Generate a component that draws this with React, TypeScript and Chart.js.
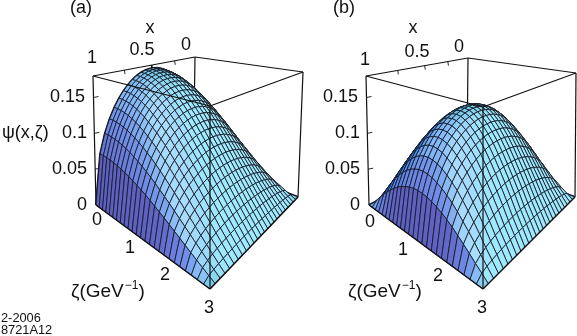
import React, { useEffect, useRef } from "react";
import { Chart, registerables } from "chart.js";

Chart.register(...registerables);

// Relative x-profile across the 25 mesh cells (x = 0 … 1)
const xProfile = [0, 0.392, 0.543, 0.65, 0.733, 0.8, 0.854, 0.898, 0.933, 0.96, 0.98, 0.993, 0.999, 0.999, 0.993, 0.98, 0.96, 0.933, 0.898, 0.854, 0.8, 0.733, 0.65, 0.543, 0.392, 0];
// psi along the ridge x = 0.5 over the 25 zeta mesh cells (zeta = 0 … 3)
const ridgeA = [0.175, 0.1746, 0.1734, 0.1714, 0.1686, 0.1651, 0.1608, 0.1558, 0.1499, 0.1436, 0.1367, 0.1293, 0.1216, 0.113, 0.1041, 0.095, 0.0858, 0.0763, 0.0665, 0.0567, 0.0469, 0.0371, 0.0275, 0.0182, 0.0089, 0];
const ridgeB = [0, 0.0177, 0.0351, 0.052, 0.0678, 0.0826, 0.0956, 0.1072, 0.1169, 0.1248, 0.1304, 0.1339, 0.135, 0.1339, 0.1306, 0.1253, 0.1179, 0.1093, 0.0993, 0.087, 0.0735, 0.0596, 0.0448, 0.029, 0.0148, 0];

const xTicks = ["1", "0.5", "0"];
const zetaTicks = ["0", "1", "2", "3"];
const psiTicks = ["0", "0.05", "0.1", "0.15"];
const psiMinorValues = [0.05, 0.1, 0.15];
const xMinorValues = [0.25, 0.5, 0.75];
const Z_TOP = 0.18;

type P = [number, number];
type Panel = {
  ridge: number[];
  topQ: P[]; // left, back, right, front
  baseQ: P[];
  title: string;
  titlePos: P;
  xTitle: P;
  xTickPos: P[];
  zetaTickPos: P[];
  psiTickPos: P[];
  zetaTitle: P;
  psiTitle?: P;
};

const panels: Panel[] = [
  {
    ridge: ridgeA,
    topQ: [[93, 76], [195, 57], [303, 72], [210, 106]],
    baseQ: [[96, 205], [193.5, 155.5], [298, 197], [210, 289]],
    title: "(a)",
    titlePos: [81, 8],
    xTitle: [150, 28],
    xTickPos: [[92, 58], [142, 50], [186, 45]],
    zetaTickPos: [[97, 220], [130, 248], [165, 275], [209, 308]],
    psiTickPos: [[87, 205], [87, 169], [87, 133], [85, 97]],
    zetaTitle: [71, 292],
    psiTitle: [2, 133],
  },
  {
    ridge: ridgeB,
    topQ: [[366, 76], [468, 58], [576, 73], [483, 107]],
    baseQ: [[369, 205], [467, 156], [575, 197], [483, 289]],
    title: "(b)",
    titlePos: [344, 8],
    xTitle: [413, 28],
    xTickPos: [[365, 60], [417, 52], [459, 47]],
    zetaTickPos: [[370, 222], [403, 250], [438, 276], [482, 308]],
    psiTickPos: [[360, 205], [360, 169], [360, 133], [358, 97]],
    zetaTitle: [348, 292],
  },
];

// unit square -> quad homography; u from x=1 (0) to x=0 (1), v = zeta/3
function homography(q: P[]) {
  const [[x0, y0], [x1, y1], [x2, y2], [x3, y3]] = q;
  const dx1 = x1 - x2, dx2 = x3 - x2, sx = x0 - x1 + x2 - x3;
  const dy1 = y1 - y2, dy2 = y3 - y2, sy = y0 - y1 + y2 - y3;
  const det = dx1 * dy2 - dx2 * dy1;
  const g = (sx * dy2 - dx2 * sy) / det;
  const h = (dx1 * sy - sx * dy1) / det;
  const a = x1 - x0 + g * x1, b = x3 - x0 + h * x3, c = x0;
  const d = y1 - y0 + g * y1, e = y3 - y0 + h * y3, f = y0;
  return (u: number, v: number): P => {
    const w = g * u + h * v + 1;
    return [(a * u + b * v + c) / w, (d * u + e * v + f) / w];
  };
}

function makeProjector(p: Panel) {
  const top = homography(p.topQ);
  const base = homography(p.baseQ);
  return (x: number, zetaFrac: number, z: number) => {
    const u = 1 - x;
    const t = z / Z_TOP;
    const b = base(u, zetaFrac);
    const tp = top(u, zetaFrac);
    return { x: b[0] + (tp[0] - b[0]) * t, y: b[1] + (tp[1] - b[1]) * t };
  };
}

// shading: colour for facet normals (horizontal parts nx, nz)
const shadeAnchors: number[][] = [
  [0, 0, 115, 205, 232],
  [0.54, 0, 135, 190, 250],
  [0.79, 0, 112, 140, 235],
  [0.98, 0, 92, 88, 185],
  [0, 0.55, 160, 235, 255],
  [0.4, 0.4, 170, 222, 254],
  [-0.4, 0.4, 185, 245, 245],
  [-0.3, 0, 120, 205, 215],
  [-0.54, 0, 145, 222, 225],
  [-0.85, 0, 175, 235, 235],
  [0.5, -0.5, 45, 125, 232],
  [0.85, -0.4, 55, 105, 218],
  [0, -0.6, 65, 175, 228],
  [-0.5, -0.5, 105, 195, 205],
];

function facetColor(dzdx: number, dzdv: number) {
  const k = 0.5;
  const n = [-dzdx * k, -dzdv * k, 1];
  const len = Math.hypot(n[0], n[1], n[2]) || 1;
  const nx = n[0] / len, nv = n[1] / len;
  let w = 0, r = 0, g = 0, b = 0;
  shadeAnchors.forEach((a) => {
    const d = Math.hypot(nx - a[0], nv - a[1]);
    const q = 1 / (d * d * d + 0.001);
    w += q;
    r += q * a[2];
    g += q * a[3];
    b += q * a[4];
  });
  return `rgb(${Math.round(r / w)},${Math.round(g / w)},${Math.round(b / w)})`;
}

function lineDs(pts: { x: number; y: number }[], width: number, color = "#111") {
  return {
    data: pts,
    showLine: true,
    borderColor: color,
    borderWidth: width,
    pointRadius: 0,
    fill: false,
    tension: 0,
  };
}

function buildPanel(p: Panel) {
  const proj = makeProjector(p);
  const n = xProfile.length;
  const psi = (i: number, j: number) => p.ridge[j] * xProfile[i];
  const pt = (i: number, j: number) => proj(i / (n - 1), j / (n - 1), psi(i, j));
  const behind: any[] = [];
  const mesh: any[] = [];
  const front: any[] = [];
  const corner = (x: number, v: number, z: number) => proj(x, v, z);
  const seg = (a: any, b: any, w = 1.2) => lineDs([a, b], w);
  // back box edges
  behind.push(seg(corner(1, 0, Z_TOP), corner(0, 0, Z_TOP)));
  behind.push(seg(corner(0, 0, Z_TOP), corner(0, 1, Z_TOP)));
  behind.push(seg(corner(1, 0, 0), corner(1, 0, Z_TOP)));
  behind.push(seg(corner(0, 1, 0), corner(0, 1, Z_TOP)));
  behind.push(seg(corner(0, 0, 0), corner(0, 0, Z_TOP)));
  // psi ticks on left edge, x ticks on top edge
  psiMinorValues.forEach((v) => {
    const a = corner(1, 0, v);
    behind.push(seg(a, { x: a.x + 5, y: a.y - 1 }, 0.9));
  });
  xMinorValues.forEach((v) => {
    const a = corner(v, 0, Z_TOP);
    behind.push(seg(a, { x: a.x + 0.6, y: a.y + 4 }, 0.9));
  });
  // surface outline, behind the mesh so only its silhouette shows
  const rng = Array.from({ length: n }, (_, k) => k);
  behind.push(lineDs(rng.map((k) => pt(k, 0)), 2));
  behind.push(lineDs(rng.map((k) => pt(0, k)), 2));
  for (let i = 0; i < n - 1; i++) {
    for (let j = 0; j < n - 1; j++) {
      const sx = 1 / (n - 1);
      const dzdx = ((psi(i + 1, j) + psi(i + 1, j + 1) - psi(i, j) - psi(i, j + 1)) / 2 / Z_TOP) / sx;
      const dzdv = ((psi(i, j + 1) + psi(i + 1, j + 1) - psi(i, j) - psi(i + 1, j)) / 2 / Z_TOP) / sx;
      const fill = facetColor(dzdx, dzdv);
      const a = pt(i, j), b = pt(i + 1, j), c = pt(i + 1, j + 1), d = pt(i, j + 1);
      mesh.push({
        data: [a, b, c, d, a],
        showLine: true,
        borderColor: "rgba(20,25,40,0.85)",
        borderWidth: 1,
        backgroundColor: fill,
        fill: "shape",
        pointRadius: 0,
        tension: 0,
      });
    }
  }
  // front box edges
  front.push(seg(corner(1, 0, Z_TOP), corner(1, 1, Z_TOP)));
  front.push(seg(corner(1, 1, Z_TOP), corner(0, 1, Z_TOP)));
  front.push(seg(corner(1, 1, 0), corner(1, 1, Z_TOP)));
  front.push(seg(corner(1, 0, 0), corner(1, 1, 0), 1.5));
  front.push(seg(corner(1, 1, 0), corner(0, 1, 0), 1.5));
  return [...behind, ...mesh, ...front];
}

const FONT = '"Liberation Sans", Arial, sans-serif';

const textPlugin = {
  id: "axisText",
  afterDraw(chart: any) {
    const ctx = chart.ctx as CanvasRenderingContext2D;
    const sx = chart.scales.x, sy = chart.scales.y;
    const put = (s: string, pos: P, align: CanvasTextAlign = "center", size = 18) => {
      ctx.font = `${size}px ${FONT}`;
      ctx.textAlign = align;
      ctx.textBaseline = "middle";
      ctx.fillStyle = "#111";
      ctx.fillText(s, sx.getPixelForValue(pos[0]), sy.getPixelForValue(pos[1]));
    };
    ctx.save();
    panels.forEach((p) => {
      put(p.title, p.titlePos);
      put("x", p.xTitle);
      xTicks.forEach((s, i) => put(s, p.xTickPos[i]));
      zetaTicks.forEach((s, i) => put(s, p.zetaTickPos[i]));
      psiTicks.forEach((s, i) => put(s, p.psiTickPos[i], "right"));
      put("ζ(GeV", p.zetaTitle, "left", 19);
      const w = ctx.measureText("ζ(GeV").width;
      const sup: P = [p.zetaTitle[0] + w + 1, p.zetaTitle[1] - 6];
      put("−1", sup, "left", 12);
      const w2 = ctx.measureText("−1").width;
      put(")", [sup[0] + w2, p.zetaTitle[1]], "left", 19);
      if (p.psiTitle) put("ψ(x,ζ)", p.psiTitle, "left", 18);
    });
    put("2-2006", [1, 318], "left", 12.8);
    put("8721A12", [1, 330], "left", 12.8);
    ctx.restore();
  },
};

export default function App() {
  const ref = useRef<HTMLCanvasElement>(null);
  useEffect(() => {
    if (!ref.current) return;
    const list = panels.flatMap(buildPanel).reverse();
    const chart = new Chart(ref.current, {
      type: "scatter",
      data: { datasets: list },
      options: {
        animation: false,
        responsive: false,
        events: [],
        layout: { padding: 0 },
        scales: {
          x: { type: "linear", min: 0, max: 577, display: false },
          y: { type: "linear", min: 0, max: 336, reverse: true, display: false },
        },
        plugins: { legend: { display: false }, tooltip: { enabled: false } },
      },
      plugins: [textPlugin],
    } as any);
    return () => chart.destroy();
  }, []);
  return (
    <canvas
      ref={ref}
      width={577}
      height={336}
      style={{ position: "fixed", left: 0, top: 0, width: 577, height: 336, background: "#fff" }}
    />
  );
}
